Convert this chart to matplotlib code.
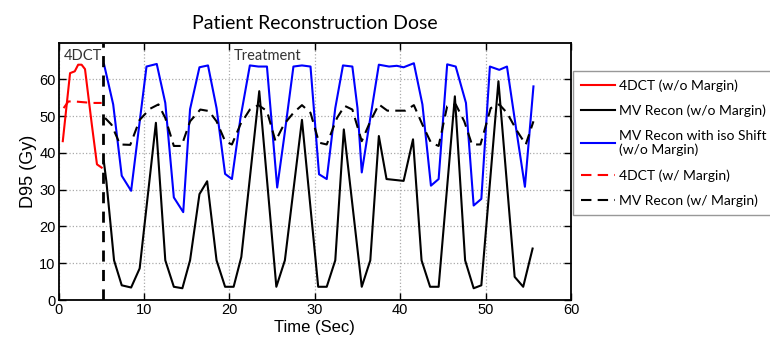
import numpy as np
import matplotlib
matplotlib.use('Agg')
import matplotlib.pyplot as plt

# 4DCT planning curves (before treatment starts)
t_4dct = [0.5, 1.35, 1.9, 2.3, 2.7, 3.1, 3.9, 4.5, 5.05]
d_4dct = [43.2, 61.7, 62.2, 64.0, 64.0, 62.8, 47.7, 36.9, 36.0]
t_4dct_m = [0.6, 1.15, 1.9, 2.9, 3.9, 5.05]
d_4dct_m = [52.2, 54.0, 54.0, 53.8, 53.6, 53.6]

t_start = 5.25  # treatment start

# MV reconstruction without margin
t_mv = [5.3, 5.6, 6.5, 7.4, 8.5, 9.5, 11.4, 12.5, 13.5, 14.5, 15.4, 16.5, 17.4,
        18.5, 19.5, 20.5, 21.4, 23.5, 25.5, 26.5, 28.5, 30.4, 31.4, 32.4, 33.4,
        35.5, 36.5, 37.5, 38.4, 40.4, 41.5, 42.5, 43.5, 44.5, 46.4, 47.6, 48.6,
        49.5, 51.5, 53.4, 54.4, 55.5]
d_mv = [37.8, 32.3, 10.8, 4.0, 3.4, 8.6, 48.2, 10.8, 3.6, 3.2, 10.8, 28.8, 32.3,
        10.8, 3.6, 3.6, 11.7, 56.8, 3.6, 10.8, 49.0, 3.6, 3.6, 10.8, 46.4,
        3.6, 10.8, 44.6, 32.9, 32.4, 43.7, 10.8, 3.6, 3.6, 55.4, 10.8, 3.2,
        4.0, 59.5, 6.3, 3.6, 14.0]

# MV reconstruction with iso shift
t_iso = [5.33, 6.4, 7.4, 8.5, 10.3, 11.5, 12.5, 13.5, 14.6, 15.4, 16.5, 17.5,
         18.5, 19.5, 20.3, 21.3, 22.4, 23.4, 24.4, 25.6, 26.4, 27.5, 28.5, 29.5,
         30.5, 31.4, 32.4, 33.3, 34.4, 35.0, 35.5, 36.5, 37.5, 38.7, 39.6, 40.4,
         41.6, 42.6, 43.6, 44.5, 45.5, 46.5, 47.7, 48.6, 49.5, 50.5, 51.6, 52.5,
         53.5, 54.6, 55.6]
d_iso = [64.1, 53.2, 33.8, 29.7, 63.5, 64.2, 53.6, 27.9, 23.9, 51.9, 63.3, 63.8,
         52.2, 34.3, 32.9, 49.5, 63.8, 63.5, 63.5, 30.6, 44.0, 63.5, 63.8, 63.5,
         34.2, 32.9, 52.2, 63.8, 63.5, 52.2, 34.7, 49.5, 64.0, 63.5, 63.7, 63.3,
         64.4, 53.2, 31.1, 32.9, 64.1, 63.5, 53.6, 25.7, 27.5, 63.5, 62.6, 63.5,
         47.7, 30.8, 58.1]

# MV reconstruction with margin
t_mv_m = [5.45, 6.2, 7.2, 8.4, 9.5, 10.7, 11.7, 12.5, 13.5, 14.4, 15.4, 16.6,
          17.6, 18.5, 19.5, 20.3, 21.3, 22.4, 23.4, 24.4, 25.4, 26.4, 27.5, 28.5,
          29.5, 30.5, 31.4, 32.6, 33.5, 34.4, 35.5, 36.5, 37.5, 38.5, 39.6, 40.6,
          41.6, 42.6, 43.6, 44.5, 45.5, 46.5, 47.5, 48.4, 49.4, 50.6, 51.6, 52.5,
          53.7, 54.7, 55.6]
d_mv_m = [49.5, 47.7, 42.3, 42.2, 49.0, 52.0, 53.2, 49.5, 41.9, 41.9, 48.6, 51.8,
          51.4, 48.6, 43.2, 42.3, 47.8, 51.8, 53.0, 51.4, 43.2, 47.8, 50.9, 53.0,
          50.9, 42.8, 42.3, 49.5, 52.8, 51.8, 43.2, 48.6, 53.2, 51.5, 51.5, 51.5,
          53.0, 47.7, 42.8, 41.9, 52.7, 53.2, 48.6, 42.3, 42.3, 52.2, 53.2, 50.9,
          45.9, 42.3, 48.6]

plt.rcParams['font.family'] = ['Liberation Sans', 'DejaVu Sans']

fig = plt.figure(figsize=(7.7, 3.4), dpi=100)
ax = fig.add_axes([0.076, 0.1176, 0.6656, 0.757])

ax.plot(t_4dct, d_4dct, '-', color='#ff0000', lw=1.5, label='4DCT (w/o Margin)')
ax.plot(t_mv, d_mv, '-', color='black', lw=1.5, label='MV Recon (w/o Margin)')
ax.plot(t_iso, d_iso, '-', color='#0000ff', lw=1.5,
        label='MV Recon with iso Shift\n(w/o Margin)')
ax.plot(t_4dct_m, d_4dct_m, '--', color='#ff0000', lw=1.5, dashes=(5, 3),
        label='4DCT (w/ Margin)')
ax.plot(t_mv_m, d_mv_m, '--', color='black', lw=1.5, dashes=(5, 3),
        label='MV Recon (w/ Margin)')
ax.axvline(t_start, color='black', lw=2, ls='--', dashes=(4, 3))

ax.set_xlim(0, 60)
ax.set_ylim(0, 70)
ax.set_xticks(np.arange(0, 61, 10))
ax.set_yticks(np.arange(0, 61, 10))
ax.grid(True, color='#aaaaaa', ls=':', lw=0.9)
ax.tick_params(direction='in', length=5, width=1, labelsize=10.5,
               top=True, right=True, pad=2)
for s in ax.spines.values():
    s.set_linewidth(1.3)

ax.set_xlabel('Time (Sec)', fontsize=12, labelpad=2)
ax.set_ylabel('D95 (Gy)', fontsize=13, labelpad=2)
ax.set_title('Patient Reconstruction Dose', fontsize=14, family='Lato', pad=10)

ax.text(0.6, 66.5, '4DCT', fontsize=10.5, family='Lato', va='center',
        color='#333333')
ax.text(20.5, 66.5, 'Treatment', fontsize=10.5, family='Lato', va='center',
        color='#333333')

leg = fig.legend(loc='upper left', bbox_to_anchor=(0.744, 0.79),
                 prop={'family': 'Lato', 'size': 10}, fancybox=False,
                 edgecolor='#7f7f7f', handlelength=2.4, borderaxespad=0,
                 borderpad=0.6, labelspacing=0.9, handletextpad=0.35)
leg.get_frame().set_linewidth(1.0)

fig.savefig('out.png', dpi=100)
